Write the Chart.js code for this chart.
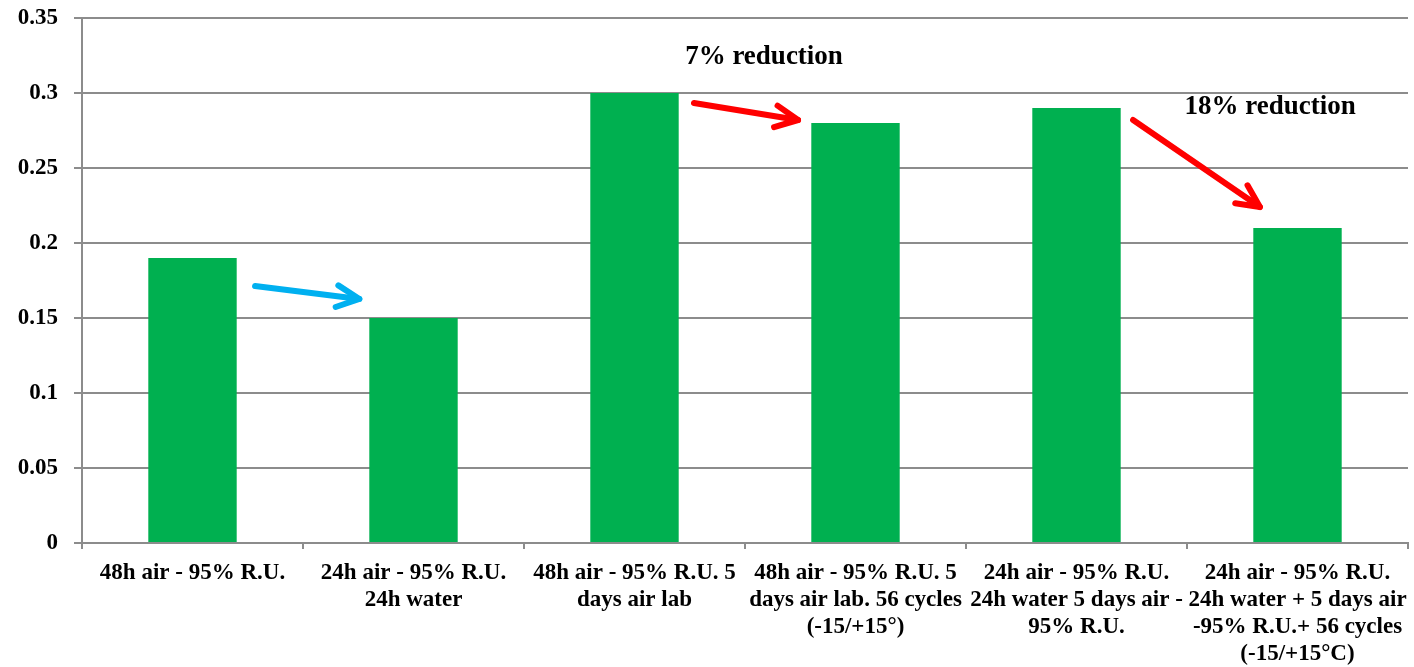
<!DOCTYPE html>
<html>
<head>
<meta charset="utf-8">
<script src="https://cdn.jsdelivr.net/npm/chart.js@4/dist/chart.umd.min.js"></script>
<style>
  html, body { margin: 0; padding: 0; background: #ffffff; }
  #wrap { width: 1414px; height: 667px; position: relative; }
</style>
</head>
<body>
<div id="wrap"><canvas id="chart" width="1414" height="667"></canvas></div>
<script>
// Treatment conditions (multi-line category labels)
const categories = [
  ['48h air - 95% R.U.'],
  ['24h air - 95% R.U.', '24h water'],
  ['48h air - 95% R.U. 5', 'days air lab'],
  ['48h air - 95% R.U. 5', 'days air lab. 56 cycles', '(-15/+15°)'],
  ['24h air - 95% R.U.', '24h water 5 days air -', '95% R.U.'],
  ['24h air - 95% R.U.', '24h water + 5 days air', '-95% R.U.+ 56 cycles', '(-15/+15°C)']
];
const values = [0.19, 0.15, 0.30, 0.28, 0.29, 0.21];
const yTicks = [0, 0.05, 0.1, 0.15, 0.2, 0.25, 0.3, 0.35];

// Arrows in data space: [x index, y value] at the tail and at the tip
const arrowStarts = [[0.283, 0.1713], [2.269, 0.2933], [4.256, 0.282]];
const arrowEnds   = [[0.755, 0.1627], [2.740, 0.2820], [4.830, 0.224]];
const arrowColors = ['#00B0F0', '#FF0000', '#FF0000'];

// Reduction notes: text and anchor (x index, y value)
const noteTexts = ['7% reduction', '18% reduction'];
const notePos = [[2.586, 0.324], [4.876, 0.2907]];

const FONT = '"Liberation Serif", "Times New Roman", serif';

const arrowPlugin = {
  id: 'arrows',
  afterDatasetsDraw(chart) {
    const { ctx, scales: { x, y } } = chart;
    ctx.save();
    ctx.lineCap = 'round';
    ctx.lineJoin = 'round';
    arrowStarts.forEach((s, i) => {
      const e = arrowEnds[i];
      const x1 = x.getPixelForValue(s[0]), y1 = y.getPixelForValue(s[1]);
      const x2 = x.getPixelForValue(e[0]), y2 = y.getPixelForValue(e[1]);
      const ang = Math.atan2(y2 - y1, x2 - x1);
      const head = 25, spread = 0.45;
      ctx.strokeStyle = arrowColors[i];
      ctx.lineWidth = 6;
      ctx.beginPath();
      ctx.moveTo(x1, y1);
      ctx.lineTo(x2, y2);
      ctx.stroke();
      ctx.beginPath();
      ctx.moveTo(x2 - head * Math.cos(ang - spread), y2 - head * Math.sin(ang - spread));
      ctx.lineTo(x2, y2);
      ctx.lineTo(x2 - head * Math.cos(ang + spread), y2 - head * Math.sin(ang + spread));
      ctx.stroke();
    });
    ctx.fillStyle = '#000000';
    ctx.font = 'bold 27px ' + FONT;
    ctx.textAlign = 'center';
    ctx.textBaseline = 'middle';
    noteTexts.forEach((t, i) => {
      ctx.fillText(t, x.getPixelForValue(notePos[i][0]), y.getPixelForValue(notePos[i][1]));
    });
    ctx.restore();
  }
};

new Chart(document.getElementById('chart'), {
  type: 'bar',
  data: {
    labels: categories,
    datasets: [{
      data: values,
      backgroundColor: '#00B050',
      borderWidth: 0,
      categoryPercentage: 1,
      barPercentage: 0.4
    }]
  },
  options: {
    responsive: false,
    animation: false,
    devicePixelRatio: 1,
    layout: { padding: { top: 18, right: 6, left: 0, bottom: 0 } },
    plugins: { legend: { display: false }, tooltip: { enabled: false } },
    scales: {
      x: {
        offset: true,
        grid: {
          offset: true,
          drawOnChartArea: false,
          drawTicks: true,
          tickLength: 6,
          color: '#8c8c8c',
          lineWidth: 2
        },
        border: { color: '#8c8c8c', width: 2 },
        ticks: {
          color: '#000000',
          maxRotation: 0,
          autoSkip: false,
          padding: 10,
          font: { family: FONT, size: 23, weight: 'bold', lineHeight: 1.18 }
        },
        afterFit(scale) {
          scale.height = 124;
          scale.paddingLeft = 0;
          scale.paddingRight = 0;
        }
      },
      y: {
        min: 0,
        max: 0.35,
        afterBuildTicks(scale) { scale.ticks = yTicks.map(v => ({ value: v })); },
        grid: {
          color: '#8c8c8c',
          lineWidth: 2,
          tickLength: 8
        },
        border: { color: '#8c8c8c', width: 2 },
        ticks: {
          color: '#000000',
          padding: 16,
          font: { family: FONT, size: 23, weight: 'bold' },
          callback: v => String(Math.round(v * 100) / 100)
        },
        afterFit(scale) {
          scale.width = 82;
          scale.paddingTop = 0;
          scale.paddingBottom = 0;
        }
      }
    }
  },
  plugins: [arrowPlugin]
});
</script>
</body>
</html>
